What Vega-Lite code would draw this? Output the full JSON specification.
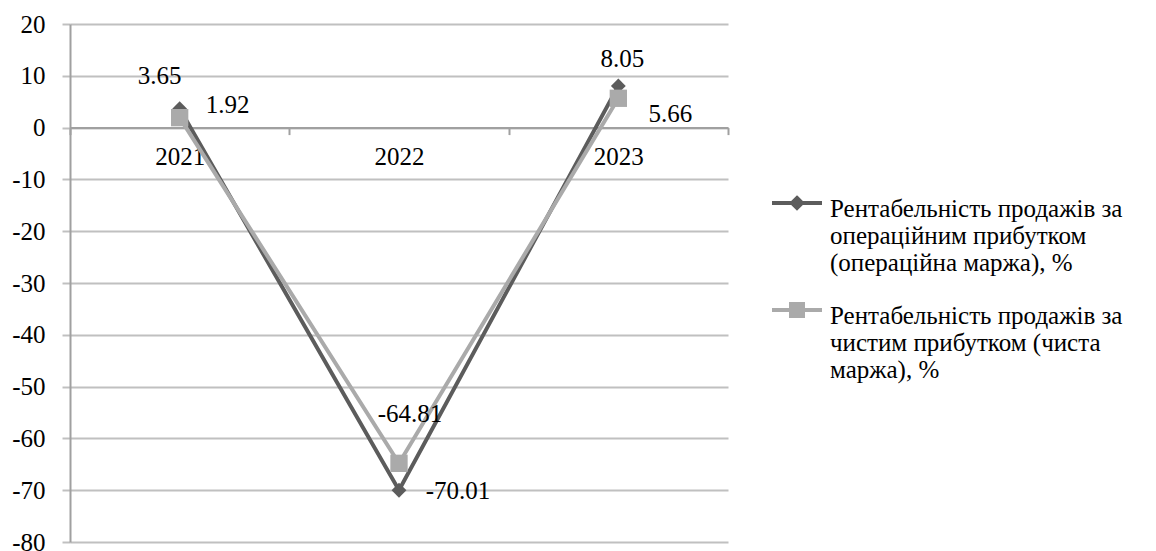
{
  "$schema": "https://vega.github.io/schema/vega-lite/v6.json",
  "width": 658,
  "height": 518,
  "autosize": {"type": "none"},
  "padding": {"left": 70, "top": 24, "right": 428, "bottom": 9},
  "background": "white",
  "config": {"view": {"stroke": null}, "font": "'Liberation Serif', 'Times New Roman', serif", "text": {"font": "'Liberation Serif', 'Times New Roman', serif"}},
  "data": {"values": [
    {"year": "2021", "series": "Рентабельність продажів за операційним прибутком (операційна маржа), %", "value": 3.65},
    {"year": "2022", "series": "Рентабельність продажів за операційним прибутком (операційна маржа), %", "value": -70.01},
    {"year": "2023", "series": "Рентабельність продажів за операційним прибутком (операційна маржа), %", "value": 8.05},
    {"year": "2021", "series": "Рентабельність продажів за чистим прибутком (чиста маржа), %", "value": 1.92},
    {"year": "2022", "series": "Рентабельність продажів за чистим прибутком (чиста маржа), %", "value": -64.81},
    {"year": "2023", "series": "Рентабельність продажів за чистим прибутком (чиста маржа), %", "value": 5.66}
  ]},
  "encoding": {
    "x": {"field": "year", "type": "ordinal",
      "scale": {"type": "band", "paddingInner": 0, "paddingOuter": 0},
      "axis": {"title": null, "orient": "bottom", "offset": -414.4, "domainColor": "#a0a0a0", "domainWidth": 2,
        "tickColor": "#a0a0a0", "tickWidth": 2, "tickSize": 7, "tickBand": "extent", "labelAngle": 0,
        "labelPadding": 10, "labelFontSize": 25, "labelColor": "black", "labelFont": "'Liberation Serif', 'Times New Roman', serif", "grid": false}},
    "y": {"field": "value", "type": "quantitative",
      "scale": {"domain": [-80, 20], "nice": false, "zero": false},
      "axis": {"title": null, "values": [-80, -70, -60, -50, -40, -30, -20, -10, 0, 10, 20],
        "labelExpr": "replace(datum.label, '−', '-')",
        "grid": true, "gridColor": "#c0c0c0", "gridWidth": 2, "domainColor": "#a0a0a0", "domainWidth": 2,
        "tickColor": "#c0c0c0", "tickWidth": 2, "tickSize": 8, "labelPadding": 17, "labelFontSize": 25,
        "labelColor": "black", "labelFont": "'Liberation Serif', 'Times New Roman', serif"}}
  },
  "layer": [
    {
      "mark": {"type": "line", "strokeWidth": 4},
      "encoding": {
        "color": {"field": "series", "type": "nominal",
          "scale": {"domain": ["Рентабельність продажів за операційним прибутком (операційна маржа), %", "Рентабельність продажів за чистим прибутком (чиста маржа), %"], "range": ["#5c5c5c", "#aaaaaa"]},
          "legend": {"orient": "none", "legendX": 700, "legendY": 152, "title": null,
            "labelFont": "'Liberation Serif', 'Times New Roman', serif", "labelFontSize": 25, "labelColor": "black", "labelLimit": 420,
            "labelBaseline": "top", "labelOffset": 6, "rowPadding": 7,
            "symbolSize": 2500, "symbolStrokeWidth": 4, "symbolType": "stroke",
            "labelExpr": "indexof(datum.label, 'операційним') >= 0 ? ['Рентабельність продажів за', 'операційним прибутком', '(операційна маржа), %'] : ['Рентабельність продажів за', 'чистим прибутком (чиста', 'маржа), %']",
            "encode": {
              "labels": {"update": {"lineHeight": {"value": 27}, "dy": {"value": -6}}},
              "symbols": {"update": {
              "shape": {"signal": "indexof(datum.value, 'операційним') >= 0 ? 'M-1,0H1M0,-0.2L0.2,0L0,0.2L-0.2,0Z' : 'M-1,0H1M-0.24,-0.24H0.24V0.24H-0.24Z'"},
              "fill": {"signal": "indexof(datum.value, 'операційним') >= 0 ? '#5c5c5c' : '#aaaaaa'"},
              "stroke": {"signal": "indexof(datum.value, 'операційним') >= 0 ? '#5c5c5c' : '#aaaaaa'"}
            }}}
          }}
      }
    },
    {
      "transform": [{"filter": {"field": "series", "equal": "Рентабельність продажів за операційним прибутком (операційна маржа), %"}}],
      "mark": {"type": "point", "shape": "diamond", "filled": true, "opacity": 1, "size": 220, "color": "#5c5c5c"}
    },
    {
      "transform": [{"filter": {"field": "series", "equal": "Рентабельність продажів за чистим прибутком (чиста маржа), %"}}],
      "mark": {"type": "point", "shape": "square", "filled": true, "opacity": 1, "size": 300, "color": "#aaaaaa"}
    },
    {
      "transform": [{"filter": {"and": [{"field": "series", "equal": "Рентабельність продажів за операційним прибутком (операційна маржа), %"}, {"field": "year", "equal": "2021"}]}}],
      "mark": {"type": "text", "fontSize": 25, "color": "black", "dx": -20, "dy": -33, "baseline": "middle"},
      "encoding": {"text": {"field": "value", "type": "nominal"}}
    },
    {
      "transform": [{"filter": {"and": [{"field": "series", "equal": "Рентабельність продажів за чистим прибутком (чиста маржа), %"}, {"field": "year", "equal": "2021"}]}}],
      "mark": {"type": "text", "fontSize": 25, "color": "black", "dx": 48, "dy": -13, "baseline": "middle"},
      "encoding": {"text": {"field": "value", "type": "nominal"}}
    },
    {
      "transform": [{"filter": {"and": [{"field": "series", "equal": "Рентабельність продажів за операційним прибутком (операційна маржа), %"}, {"field": "year", "equal": "2023"}]}}],
      "mark": {"type": "text", "fontSize": 25, "color": "black", "dx": 4, "dy": -27, "baseline": "middle"},
      "encoding": {"text": {"field": "value", "type": "nominal"}}
    },
    {
      "transform": [{"filter": {"and": [{"field": "series", "equal": "Рентабельність продажів за чистим прибутком (чиста маржа), %"}, {"field": "year", "equal": "2023"}]}}],
      "mark": {"type": "text", "fontSize": 25, "color": "black", "dx": 52, "dy": 16, "baseline": "middle"},
      "encoding": {"text": {"field": "value", "type": "nominal"}}
    },
    {
      "transform": [{"filter": {"and": [{"field": "series", "equal": "Рентабельність продажів за чистим прибутком (чиста маржа), %"}, {"field": "year", "equal": "2022"}]}}],
      "mark": {"type": "text", "fontSize": 25, "color": "black", "dx": 11, "dy": -49, "baseline": "middle"},
      "encoding": {"text": {"field": "value", "type": "nominal"}}
    },
    {
      "transform": [{"filter": {"and": [{"field": "series", "equal": "Рентабельність продажів за операційним прибутком (операційна маржа), %"}, {"field": "year", "equal": "2022"}]}}],
      "mark": {"type": "text", "fontSize": 25, "color": "black", "dx": 59, "dy": 1, "baseline": "middle"},
      "encoding": {"text": {"field": "value", "type": "nominal"}}
    }
  ]
}
